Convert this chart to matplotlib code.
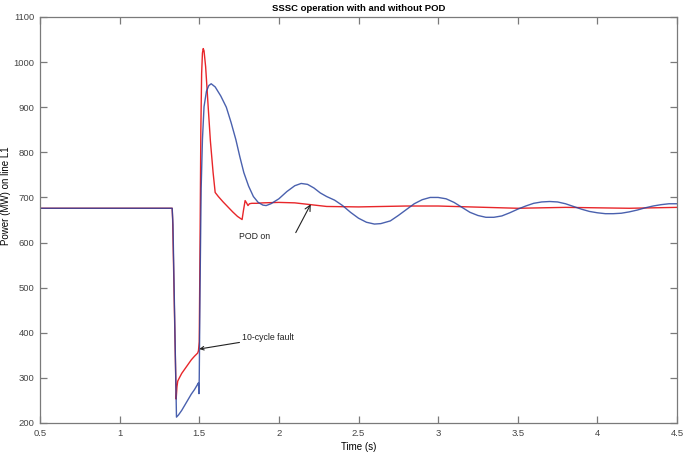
import matplotlib
matplotlib.use("Agg")
import matplotlib.pyplot as plt

plt.rcParams['font.family'] = ['Liberation Sans', 'DejaVu Sans']

# SSSC without POD (blue)
t_nopod = [0.5, 1.33, 1.335, 1.357, 1.37, 1.39, 1.41, 1.43, 1.45, 1.47, 1.49, 1.495,
           1.498, 1.50, 1.505, 1.512, 1.52, 1.53, 1.545, 1.56, 1.575, 1.6, 1.635, 1.67,
           1.7, 1.73, 1.755, 1.78, 1.81, 1.84, 1.87, 1.9, 1.92, 1.95, 2.0, 2.05, 2.1,
           2.14, 2.18, 2.22, 2.26, 2.3, 2.35, 2.4, 2.45, 2.5, 2.55, 2.6, 2.64, 2.7, 2.75,
           2.8, 2.85, 2.9, 2.95, 3.0, 3.05, 3.1, 3.15, 3.2, 3.25, 3.3, 3.35, 3.4, 3.45,
           3.5, 3.55, 3.6, 3.65, 3.7, 3.75, 3.8, 3.85, 3.9, 3.95, 4.0, 4.05, 4.1, 4.15,
           4.2, 4.25, 4.3, 4.35, 4.4, 4.45, 4.5]
p_nopod = [676, 676, 640, 213, 218, 228, 240, 252, 264, 274, 286, 289,
           265, 300, 500, 720, 828, 901, 935, 948, 952, 945, 925, 900,
           866, 828, 790, 755, 725, 702, 689, 683, 682, 686, 697, 713, 726,
           731, 729, 721, 710, 702, 694, 682, 667, 654, 645, 641, 642, 648, 660,
           673, 686, 695, 700, 700, 697, 689, 678, 667, 660, 656, 656, 659, 666,
           674, 681, 687, 690, 691, 690, 686, 680, 674, 669, 666, 664, 664, 665,
           668, 672, 677, 681, 684, 686, 686]

# SSSC with POD (red)
t_pod = [0.5, 1.33, 1.333, 1.355, 1.36, 1.365, 1.375, 1.39, 1.41, 1.43, 1.45, 1.47,
         1.49, 1.495, 1.50, 1.505, 1.51, 1.515, 1.52, 1.525, 1.53, 1.54, 1.55, 1.556,
         1.57, 1.587, 1.6, 1.62, 1.65, 1.68, 1.71, 1.74, 1.769, 1.778, 1.788, 1.797,
         1.806, 1.815, 1.83, 1.86, 1.9, 2.0, 2.1, 2.2, 2.3, 2.5, 2.8, 3.0, 3.2, 3.5,
         3.8, 4.0, 4.2, 4.5]
p_pod = [676, 676, 650, 253, 280, 293, 300, 310, 320, 330, 340, 348,
         355, 360, 380, 600, 850, 975, 1020, 1030, 1025, 990, 935, 901,
         825, 755, 711, 702, 690, 679, 668, 658, 651, 672, 693, 688,
         682, 686, 687, 687, 688, 689, 688, 684, 680, 679, 681, 681, 679, 676,
         678, 677, 676, 678]

x_ticks = [0.5, 1, 1.5, 2, 2.5, 3, 3.5, 4, 4.5]
x_labels = ['0.5', '1', '1.5', '2', '2.5', '3', '3.5', '4', '4.5']
y_ticks = [200, 300, 400, 500, 600, 700, 800, 900, 1000, 1100]

fig = plt.figure(figsize=(6.84, 4.57), dpi=100)
ax = fig.add_axes([40 / 684, 34 / 457, 637 / 684, 406 / 457])

ax.plot(t_pod, p_pod, color='#e8262a', lw=1.0)
ax.plot(t_nopod, p_nopod, color='#2a45a0', lw=1.0, alpha=0.85)

ax.set_xlim(0.5, 4.5)
ax.set_ylim(200, 1100)
ax.set_xticks(x_ticks)
ax.set_xticklabels(x_labels)
ax.set_yticks(y_ticks)

for s in ax.spines.values():
    s.set_color('#7a7a7a')
    s.set_linewidth(0.9)
ax.tick_params(direction='in', length=5, width=0.9, colors='#7a7a7a',
               labelcolor='#444444', labelsize=6.8, top=True, right=True, pad=4)

ax.set_title('SSSC operation with and without POD', fontsize=6.8,
             fontweight='bold', pad=4)
ax.set_xlabel('Time (s)', fontsize=7, labelpad=3)
ax.set_ylabel('Power (MW) on line L1', fontsize=7)
ax.yaxis.set_label_coords(-0.045, 0.56)

# annotations
ax.text(1.75, 613, 'POD on', fontsize=6.3, color='#222222', ha='left', va='center')
ax.annotate('', xy=(2.2, 685), xytext=(2.106, 622),
            arrowprops=dict(arrowstyle='->', color='#222222', lw=0.8,
                            shrinkA=0, shrinkB=0))
ax.annotate('10-cycle fault', xy=(1.5, 364), xytext=(1.77, 379), fontsize=6.3,
            color='#222222', ha='left', va='bottom',
            arrowprops=dict(arrowstyle='->', color='#222222', lw=0.8,
                            shrinkA=0, shrinkB=0))

fig.savefig('out.png', dpi=100)
